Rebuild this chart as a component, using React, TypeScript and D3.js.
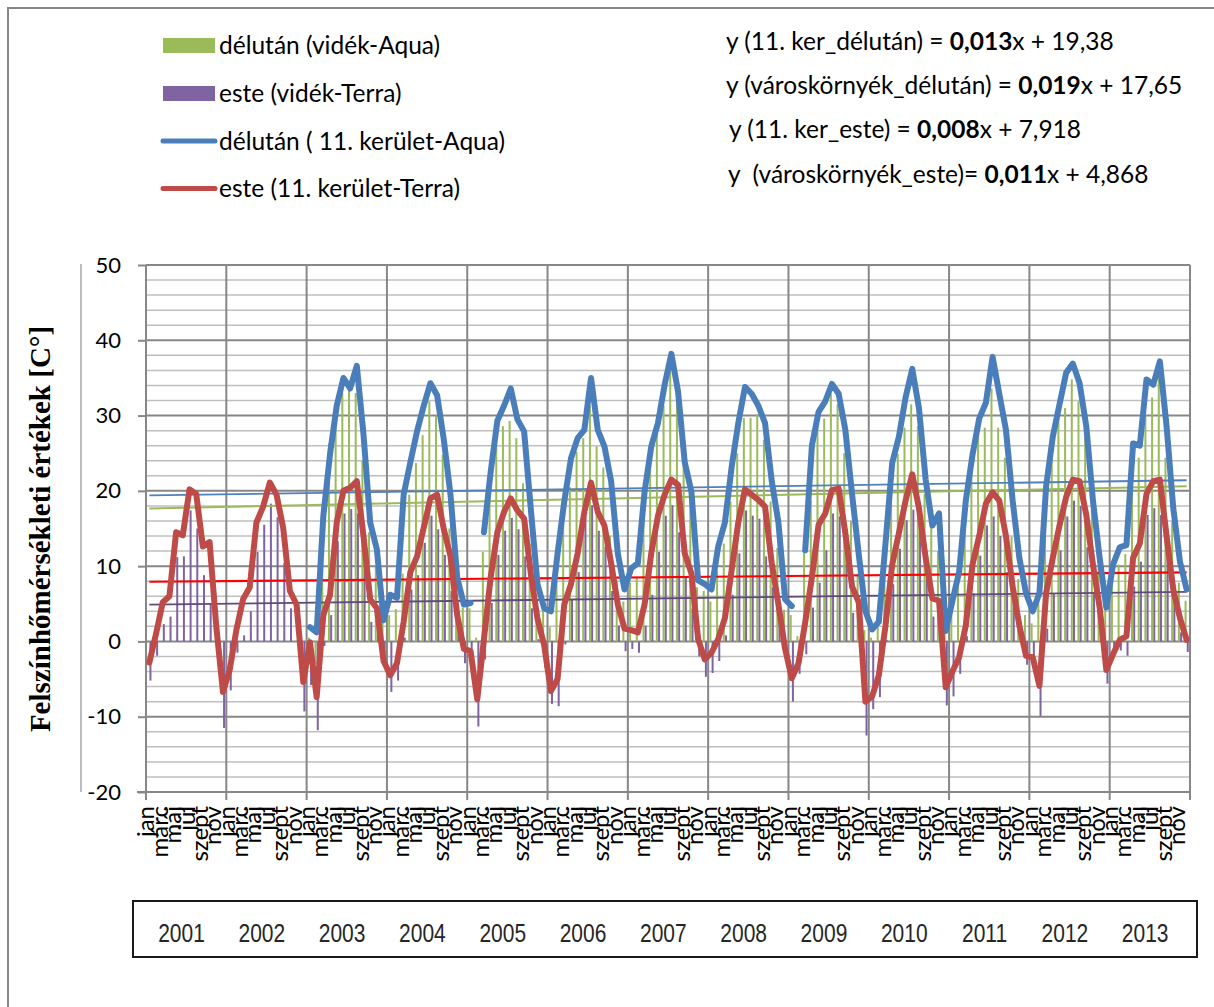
import * as d3 from "d3";
import React, { useEffect, useRef } from "react";

// --- data -------------------------------------------------------------
const years = ["2001", "2002", "2003", "2004", "2005", "2006", "2007", "2008", "2009", "2010", "2011", "2012", "2013"];
const months = ["jan", "febr", "márc", "ápr", "máj", "jún", "júl", "aug", "szept", "okt", "nov", "dec"];
const yTicks = [-20, -10, 0, 10, 20, 30, 40, 50];

// délután (vidék-Aqua) - green bars
const delutanVidek: (number | null)[] = [
  null, null, null, null, null, null, null, null, null, null, null, null, // 2001
  null, null, null, null, null, null, null, null, null, null, null, null, // 2002
  0.5, -3.0, 14.0, 26.3, 30.5, 33.0, 34.5, 33.0, 24.0, 14.5, 10.0, 3.5, // 2003
  3.5, 4.3, 9.0, 19.5, 23.7, 27.4, 31.9, 30.0, 24.8, 15.0, 3.8, 4.5, // 2004
  4.4, 0.5, 11.9, 20.0, 26.0, 28.6, 29.3, 27.0, 21.0, 13.0, 5.5, 4.2, // 2005
  1.9, 8.0, 15.5, 20.5, 25.2, 27.0, 31.3, 25.9, 23.1, 14.0, 8.0, 5.3, // 2006
  7.8, 8.5, 19.0, 24.5, 28.6, 31.3, 36.6, 32.2, 24.0, 18.6, 7.2, 6.7, // 2007
  5.3, 9.4, 13.0, 18.6, 25.0, 29.7, 29.7, 30.2, 26.8, 18.6, 12.4, 4.2, // 2008
  3.5, 0.7, 11.8, 18.7, 28.6, 29.6, 32.9, 31.5, 25.0, 16.0, 9.0, 1.5, // 2009
  0.5, 2.5, 13.5, 23.5, 24.9, 28.4, 31.5, 28.6, 19.6, 15.4, 12.0, 4.0, // 2010
  5.0, 8.3, 18.7, 24.4, 28.6, 28.4, 33.6, 28.4, 24.4, 13.9, 8.3, 3.5, // 2011
  2.4, 5.4, 14.9, 27.2, 31.0, 31.0, 34.8, 31.9, 27.2, 18.7, 10.2, 4.5, // 2012
  8.8, 10.2, 11.6, 22.1, 24.4, 30.1, 32.4, 35.2, 24.4, 15.9, 7.8, 5.4, // 2013
];

// este (vidék-Terra) - purple bars
const esteVidek: (number | null)[] = [
  -5.2, -1.9, 2.3, 3.3, 11.2, 11.3, 17.4, 15.0, 8.8, 5.0, -1.5, -11.5, // 2001
  -6.5, -1.5, 0.8, 4.0, 11.9, 15.5, 18.3, 16.5, 10.4, 4.4, 0.0, -9.3, // 2002
  -5.8, -11.8, -0.6, 3.5, 13.3, 17.0, 17.6, 17.0, 12.5, 2.6, 1.0, -3.1, // 2003
  -6.7, -5.2, 0.5, 6.9, 8.8, 13.1, 16.7, 14.9, 11.5, 6.7, 2.1, -2.9, // 2004
  -1.0, -11.3, -2.4, 5.1, 11.5, 14.7, 16.4, 14.9, 11.3, 4.4, 0.3, -3.5, // 2005
  -8.3, -8.6, -0.4, 5.6, 9.2, 16.5, 18.1, 14.7, 12.6, 6.7, 2.1, -1.3, // 2006
  -1.0, -1.5, 2.1, 6.2, 11.9, 16.7, 18.1, 14.5, 8.5, 4.4, -2.0, -4.7, // 2007
  -4.2, -2.6, 0.8, 6.2, 11.7, 17.4, 16.7, 16.3, 11.3, 7.2, 3.1, -0.1, // 2008
  -8.0, -4.3, -1.7, 4.5, 7.8, 12.1, 17.0, 16.6, 12.0, 3.8, 1.0, -12.5, // 2009
  -9.0, -7.4, 0.2, 7.6, 12.3, 16.1, 17.5, 15.5, 9.3, 3.3, 0.5, -8.5, // 2010
  -7.3, -4.3, 0.7, 6.4, 11.4, 15.4, 16.6, 14.0, 9.2, 5.4, 1.7, -3.1, // 2011
  -3.3, -9.9, 1.7, 6.4, 12.1, 16.6, 18.7, 18.0, 12.5, 6.6, 1.7, -5.6, // 2012
  -1.7, -1.2, -1.9, 7.3, 10.6, 16.8, 17.7, 16.8, 11.1, 6.4, 1.2, -1.4, // 2013
];

// délután (11. kerület-Aqua) - blue line
const delutanKer: (number | null)[] = [
  null, null, null, null, null, null, null, null, null, null, null, null, // 2001
  null, null, null, null, null, null, null, null, null, null, null, null, // 2002
  1.9, 1.2, 16.7, 24.9, 31.3, 35.0, 33.6, 36.6, 27.5, 15.8, 12.2, 2.8, // 2003
  6.2, 5.8, 19.5, 23.8, 27.9, 31.3, 34.3, 32.7, 26.8, 19.5, 8.5, 4.9, // 2004
  5.1, null, 14.5, 22.5, 29.3, 31.3, 33.6, 29.5, 27.9, 17.6, 7.6, 4.4, // 2005
  4.0, 11.7, 18.6, 24.3, 27.0, 28.1, 35.0, 28.1, 25.9, 21.3, 11.7, 6.9, // 2006
  9.7, 10.4, 19.9, 25.9, 29.0, 34.1, 38.2, 33.2, 23.8, 19.9, 8.1, 7.6, // 2007
  6.9, 12.6, 15.8, 23.1, 29.0, 33.8, 32.9, 31.3, 29.0, 21.3, 15.8, 5.6, // 2008
  4.7, null, 12.1, 26.0, 30.5, 31.9, 34.2, 32.9, 28.1, 19.6, 11.6, 4.0, // 2009
  1.6, 2.6, 13.0, 23.7, 27.2, 32.4, 36.2, 31.0, 21.5, 15.4, 17.0, 1.4, // 2010
  5.4, 9.2, 18.7, 24.8, 29.6, 31.7, 37.8, 32.9, 28.1, 18.7, 11.1, 6.4, // 2011
  4.0, 6.4, 20.6, 27.2, 31.5, 35.7, 36.9, 34.3, 28.6, 18.7, 11.1, 4.5, // 2012
  10.2, 12.5, 12.8, 26.3, 26.0, 34.8, 34.1, 37.2, 28.6, 17.7, 10.6, 6.9, // 2013
];

// este (11. kerület-Terra) - red line
const esteKer: (number | null)[] = [
  -2.8, 1.0, 5.2, 6.0, 14.5, 14.1, 20.2, 19.6, 12.6, 13.2, 2.0, -6.7, // 2001
  -3.8, 1.5, 5.6, 7.2, 15.8, 17.9, 21.1, 19.5, 15.1, 6.7, 4.9, -5.4, // 2002
  -0.1, -7.4, 3.5, 6.2, 15.8, 20.0, 20.4, 21.3, 14.0, 5.6, 4.4, -2.6, // 2003
  -4.5, -2.9, 2.6, 9.2, 11.3, 15.1, 19.0, 19.5, 14.9, 11.3, 3.5, -1.0, // 2004
  -1.3, -7.7, 0.3, 8.5, 14.5, 17.2, 19.0, 17.4, 16.3, 9.0, 3.0, -0.5, // 2005
  -6.6, -5.0, 4.9, 7.6, 11.7, 17.2, 21.1, 17.2, 15.4, 10.4, 4.9, 1.7, // 2006
  1.5, 1.2, 4.9, 11.7, 16.7, 19.5, 21.5, 20.8, 11.7, 9.0, 0.3, -2.4, // 2007
  -1.5, 0.3, 3.1, 9.4, 15.8, 20.2, 19.5, 18.8, 17.9, 10.4, 4.9, -1.0, // 2008
  -4.9, -2.9, 2.5, 8.5, 15.5, 17.0, 20.1, 20.3, 14.4, 7.3, 5.2, -8.0, // 2009
  -7.3, -4.5, 2.1, 10.2, 14.4, 18.7, 22.2, 17.7, 11.1, 5.7, 5.4, -6.1, // 2010
  -4.0, -2.1, 2.1, 10.2, 14.0, 18.3, 19.8, 18.7, 14.0, 7.3, 2.1, -1.9, // 2011
  -2.1, -5.9, 6.4, 11.1, 15.4, 19.2, 21.5, 21.3, 16.8, 10.2, 4.5, -3.8, // 2012
  -1.7, 0.2, 0.7, 11.1, 13.0, 19.6, 21.3, 21.5, 14.0, 6.9, 3.1, 0.2, // 2013
];

// linear trends [slope, intercept], x = 1..156
const trendKerDelutan = [0.013, 19.38];
const trendVidekDelutan = [0.019, 17.65];
const trendKerEste = [0.008, 7.918];
const trendVidekEste = [0.011, 4.868];

const legendLabels = ["délután (vidék-Aqua)", "este (vidék-Terra)", "délután ( 11. kerület-Aqua)", "este (11. kerület-Terra)"];
const equations = [
  ["y (11. ker_délután) = ", "0,013", "x + 19,38"],
  ["y (városkörnyék_délután) = ", "0,019", "x + 17,65"],
  ["y (11. ker_este) = ", "0,008", "x + 7,918"],
  ["y  (városkörnyék_este)= ", "0,011", "x + 4,868"],
];
const yTitle = "Felszínhőmérsékleti értékek [C°]";

const GREEN = "#9bbb59";
const PURPLE = "#8064a2";
const BLUE = "#4a7ebb";
const RED = "#be4b48";
const GRID = "#878787";
const SANS = "Lato, 'Open Sans', sans-serif";

export default function App() {
  const ref = useRef<SVGSVGElement>(null);

  useEffect(() => {
    const svg = d3.select(ref.current);
    svg.selectAll("*").remove();

    const left = 146, right = 1190, top = 265, bottom = 792;
    const n = years.length * months.length;

    svg.append("rect").attr("width", 1214).attr("height", 1007).attr("fill", "#fff");

    // frame of the chart object
    svg.append("path").attr("d", "M8,1007 V8 H1214").attr("fill", "none").attr("stroke", GRID).attr("stroke-width", 2);
    svg.append("line").attr("x1", 81).attr("x2", 81).attr("y1", 264).attr("y2", 792)
      .attr("stroke", "#a6a6a6").attr("stroke-width", 1.5);

    const x = d3.scaleBand<number>().domain(d3.range(n)).range([left, right]);
    const xSub = d3.scaleBand<string>().domain(["g", "p"]).range([0, x.bandwidth()])
      .paddingInner(0.09).paddingOuter(0.565);
    const y = d3.scaleLinear().domain([-20, 50]).range([bottom, top]);
    const cx = (i: number) => (x(i) as number) + x.bandwidth() / 2;

    // horizontal grid
    const g = svg.append("g");
    g.selectAll("line.minor")
      .data(d3.range(-20, 51, 2).filter((v) => v % 10 !== 0))
      .enter().append("line")
      .attr("x1", left).attr("x2", right)
      .attr("y1", (d) => y(d)).attr("y2", (d) => y(d))
      .attr("stroke", "#bfbfbf").attr("stroke-width", 1.5);
    g.selectAll("line.major")
      .data(yTicks)
      .enter().append("line")
      .attr("x1", (d) => (d === -20 ? 137 : left)).attr("x2", right)
      .attr("y1", (d) => y(d)).attr("y2", (d) => y(d))
      .attr("stroke", GRID).attr("stroke-width", 2);
    // vertical year lines (with ticks below the axis)
    g.selectAll("line.year")
      .data(d3.range(0, years.length + 1))
      .enter().append("line")
      .attr("x1", (k) => (k < years.length ? (x(k * 12) as number) : right))
      .attr("x2", (k) => (k < years.length ? (x(k * 12) as number) : right))
      .attr("y1", top).attr("y2", 800)
      .attr("stroke", GRID).attr("stroke-width", 2);

    // y axis
    const yAxis = svg.append("g").attr("transform", `translate(${left},0)`)
      .call(d3.axisLeft(y).tickValues(yTicks).tickSize(8).tickSizeOuter(0).tickPadding(17)
        .tickFormat((d) => String(d)));
    yAxis.select(".domain").remove();
    yAxis.selectAll(".tick line").attr("stroke", GRID).attr("stroke-width", 2);
    yAxis.selectAll(".tick text").attr("font-family", SANS).attr("font-size", 22).attr("fill", "#000");

    // bars
    const bars = (data: (number | null)[], key: string, color: string) =>
      svg.append("g").selectAll("rect")
        .data(data.map((v, i) => ({ v, i })).filter((d) => d.v !== null))
        .enter().append("rect")
        .attr("x", (d) => (x(d.i) as number) + (xSub(key) as number))
        .attr("width", xSub.bandwidth())
        .attr("y", (d) => Math.min(y(d.v as number), y(0)))
        .attr("height", (d) => Math.abs(y(d.v as number) - y(0)))
        .attr("fill", color);
    bars(delutanVidek, "g", GREEN);
    bars(esteVidek, "p", PURPLE);

    // trendlines
    const trend = (p: number[], color: string, w: number) => {
      const line = d3.line<number>().x((i) => cx(i)).y((i) => y(p[0] * (i + 1) + p[1]));
      svg.append("path").attr("d", line([0, n - 1])).attr("fill", "none")
        .attr("stroke", color).attr("stroke-width", w);
    };
    trend(trendKerDelutan, "#4f81bd", 1.8);
    trend(trendVidekDelutan, GREEN, 2);
    trend(trendKerEste, "#ff0000", 2.2);
    trend(trendVidekEste, "#604a7b", 1.8);

    // thick series lines
    const seriesLine = d3.line<number | null>()
      .defined((d) => d !== null)
      .x((_, i) => cx(i))
      .y((d) => y(d as number));
    svg.append("path").attr("d", seriesLine(delutanKer)).attr("fill", "none")
      .attr("stroke", BLUE).attr("stroke-width", 6).attr("stroke-linejoin", "round").attr("stroke-linecap", "round");
    svg.append("path").attr("d", seriesLine(esteKer)).attr("fill", "none")
      .attr("stroke", RED).attr("stroke-width", 6).attr("stroke-linejoin", "round").attr("stroke-linecap", "round");

    // month labels (every 2nd)
    svg.append("g").selectAll("text")
      .data(d3.range(0, n, 2))
      .enter().append("text")
      .attr("transform", (i) => `translate(${cx(i) + 5},806) rotate(-90)`)
      .attr("text-anchor", "end")
      .attr("font-family", SANS).attr("font-size", 24)
      .text((i) => months[i % 12]);

    // year box
    svg.append("rect").attr("x", 133).attr("y", 901).attr("width", 1064).attr("height", 56)
      .attr("fill", "none").attr("stroke", "#1a1a1a").attr("stroke-width", 2);
    svg.append("g").selectAll("text")
      .data(years)
      .enter().append("text")
      .attr("transform", (_, k) => `translate(${cx(k * 12 + 6) - 8},942) scale(0.84,1)`)
      .attr("text-anchor", "middle")
      .attr("font-family", "'Liberation Sans', Arial, sans-serif")
      .attr("font-size", 25).attr("fill", "#262626")
      .text((d) => d);

    // y title
    svg.append("text")
      .attr("transform", "translate(50,529) rotate(-90)")
      .attr("text-anchor", "middle")
      .attr("font-family", "'Liberation Serif', 'Times New Roman', serif")
      .attr("font-weight", "bold").attr("font-size", 29)
      .text(yTitle);

    // legend
    const rowY = [45.5, 93.5, 141, 188.5];
    const legend = svg.append("g");
    legend.append("rect").attr("x", 163).attr("y", rowY[0] - 7.5).attr("width", 52).attr("height", 15).attr("fill", GREEN);
    legend.append("rect").attr("x", 163).attr("y", rowY[1] - 7.5).attr("width", 52).attr("height", 15).attr("fill", PURPLE);
    legend.append("line").attr("x1", 163).attr("x2", 215).attr("y1", rowY[2]).attr("y2", rowY[2])
      .attr("stroke", BLUE).attr("stroke-width", 5).attr("stroke-linecap", "round");
    legend.append("line").attr("x1", 163).attr("x2", 215).attr("y1", rowY[3]).attr("y2", rowY[3])
      .attr("stroke", RED).attr("stroke-width", 5).attr("stroke-linecap", "round");
    legend.selectAll("text")
      .data(legendLabels)
      .enter().append("text")
      .attr("x", 219).attr("y", (_, k) => rowY[k] + 8.5)
      .attr("font-family", SANS).attr("font-size", 24.5)
      .style("white-space", "pre")
      .text((d) => d);

    // trend equations
    const eqX = [726, 726, 729, 728];
    const eqY = [50, 94, 138, 183];
    const eq = svg.append("g").selectAll("text")
      .data(equations)
      .enter().append("text")
      .attr("x", (_, k) => eqX[k]).attr("y", (_, k) => eqY[k])
      .attr("font-family", SANS).attr("font-size", 24.5)
      .style("white-space", "pre");
    eq.append("tspan").text((d) => d[0]);
    eq.append("tspan").attr("font-weight", "bold").text((d) => d[1]);
    eq.append("tspan").text((d) => d[2]);
  }, []);

  return (
    <svg
      ref={ref}
      width={1214}
      height={1007}
      style={{ position: "absolute", left: 0, top: 0, display: "block" }}
    />
  );
}
